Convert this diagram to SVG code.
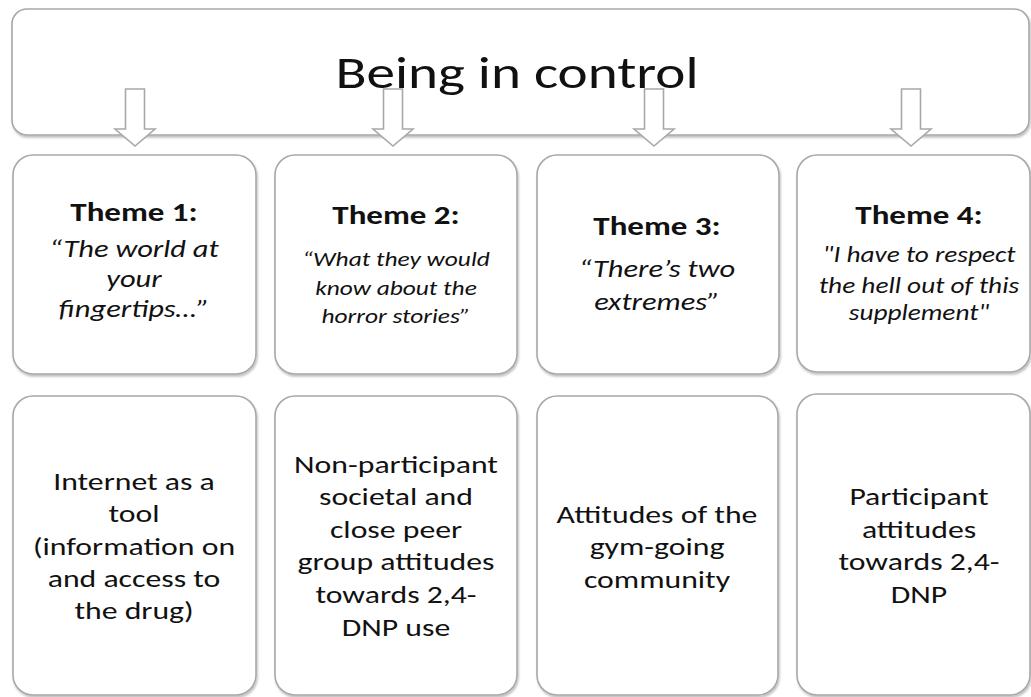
<svg xmlns="http://www.w3.org/2000/svg" width="1031" height="697" viewBox="0 0 1031 697">
<style>
.box{fill:#ffffff;stroke:#a8a8a8;stroke-width:1.6;filter:url(#sh)}
.arrow{fill:#ffffff;stroke:#a8a8a8;stroke-width:1.6}
text{font-family:Carlito,Calibri,Lato,"Liberation Sans",sans-serif;fill:#111;text-anchor:middle}
.title{font-size:45px}
.th{font-size:26px;font-weight:bold}
.q1{font-size:24px;font-style:italic}
.q2{font-size:20px;font-style:italic}
.q4{font-size:21.5px;font-style:italic}
.body{font-size:25px}
</style>
<defs>
<filter id="sh" x="-5%" y="-5%" width="110%" height="110%">
<feDropShadow dx="1" dy="2" stdDeviation="1.2" flood-color="#000" flood-opacity="0.25"/>
</filter>
</defs>
<rect width="1031" height="697" fill="#ffffff"/>
<g id="top">
<rect class="box" x="12" y="9" width="1017" height="126" rx="15"/>
<g transform="translate(517 0) scale(1.27 1)"><text class="title" x="0" y="88">Being in control</text></g>
</g>
<g id="connectors">
<path class="arrow" d="M125.5 89 H144.5 V129 H155 L135 146 L115 129 H125.5 Z"/>
<path class="arrow" d="M383.5 89 H402.5 V129 H413 L393 146 L373 129 H383.5 Z"/>
<path class="arrow" d="M644.5 89 H663.5 V129 H674 L654 146 L634 129 H644.5 Z"/>
<path class="arrow" d="M901.5 89 H920.5 V129 H931 L911 146 L891 129 H901.5 Z"/>
</g>
<g id="theme1">
<rect class="box" x="13" y="155" width="243" height="219" rx="20"/>
<g transform="translate(134 0) scale(1.27 1)">
<text class="th" x="0" y="221">Theme 1:</text>
<text class="q1" x="0" y="257">“The world at</text>
<text class="q1" x="0" y="287">your</text>
<text class="q1" x="0" y="317">fingertips…”</text>
</g>
</g>
<g id="theme2">
<rect class="box" x="275" y="155" width="242" height="219" rx="20"/>
<g transform="translate(396 0) scale(1.27 1)">
<text class="th" x="0" y="224">Theme 2:</text>
<text class="q2" x="0" y="266">“What they would</text>
<text class="q2" x="0" y="295">know about the</text>
<text class="q2" x="0" y="323">horror stories”</text>
</g>
</g>
<g id="theme3">
<rect class="box" x="537" y="155" width="242" height="219" rx="20"/>
<g transform="translate(657 0) scale(1.27 1)">
<text class="th" x="0" y="235">Theme 3:</text>
<text class="q1" x="0" y="277">“There’s two</text>
<text class="q1" x="0" y="310">extremes”</text>
</g>
</g>
<g id="theme4">
<rect class="box" x="797" y="155" width="233" height="217" rx="20"/>
<g transform="translate(919 0) scale(1.27 1)">
<text class="th" x="0" y="224">Theme 4:</text>
<text class="q4" x="0" y="262">"I have to respect</text>
<text class="q4" x="0" y="293">the hell out of this</text>
<text class="q4" x="0" y="320">supplement"</text>
</g>
</g>
<g id="sub1">
<rect class="box" x="13" y="396" width="243" height="299" rx="20"/>
<g transform="translate(134 0) scale(1.27 1)">
<text class="body" x="0" y="490">Internet as a</text>
<text class="body" x="0" y="522">tool</text>
<text class="body" x="0" y="555">(information on</text>
<text class="body" x="0" y="587">and access to</text>
<text class="body" x="0" y="619">the drug)</text>
</g>
</g>
<g id="sub2">
<rect class="box" x="275" y="396" width="242" height="299" rx="20"/>
<g transform="translate(396 0) scale(1.27 1)">
<text class="body" x="0" y="473">Non-participant</text>
<text class="body" x="0" y="505">societal and</text>
<text class="body" x="0" y="538">close peer</text>
<text class="body" x="0" y="570">group attitudes</text>
<text class="body" x="0" y="603">towards 2,4-</text>
<text class="body" x="0" y="636">DNP use</text>
</g>
</g>
<g id="sub3">
<rect class="box" x="537" y="396" width="241" height="299" rx="20"/>
<g transform="translate(657 0) scale(1.27 1)">
<text class="body" x="0" y="523">Attitudes of the</text>
<text class="body" x="0" y="555">gym-going</text>
<text class="body" x="0" y="588">community</text>
</g>
</g>
<g id="sub4">
<rect class="box" x="797" y="394" width="233" height="301" rx="20"/>
<g transform="translate(919 0) scale(1.27 1)">
<text class="body" x="0" y="505">Participant</text>
<text class="body" x="0" y="538">attitudes</text>
<text class="body" x="0" y="570">towards 2,4-</text>
<text class="body" x="0" y="603">DNP</text>
</g>
</g>
</svg>
